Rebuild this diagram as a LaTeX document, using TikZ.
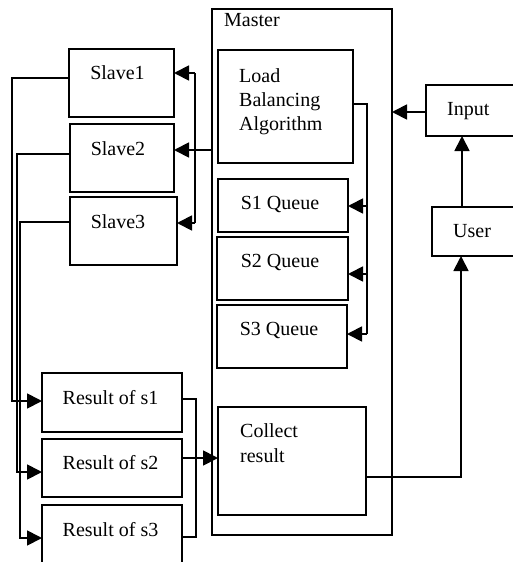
\documentclass[tikz,border=0pt]{standalone}
\usepackage{fontspec}
\setmainfont{Liberation Serif}
\usetikzlibrary{arrows.meta}
\begin{document}
\begin{tikzpicture}[x=1pt,y=-1pt,
  box/.style={draw, line width=1.8pt, inner sep=0pt, outer sep=0pt, anchor=north west},
  lbl/.style={font=\fontsize{20}{24}\selectfont, inner sep=0pt},
  conn/.style={line width=1.8pt},
  arr/.style={conn, -{Triangle[length=15pt,width=15pt]}}]
\useasboundingbox (0,0) rectangle (513,562);
\clip (0,0) rectangle (513,562);
% boxes
\node[box, minimum width=180, minimum height=526] (master) at (212,9) {};
\node[box, minimum width=135, minimum height=113] (lba) at (218,50) {};
\node[box, minimum width=130, minimum height=53] (q1) at (218,179) {};
\node[box, minimum width=131, minimum height=63] (q2) at (217,237) {};
\node[box, minimum width=130, minimum height=63] (q3) at (217,305) {};
\node[box, minimum width=148, minimum height=108] (collect) at (218,407) {};
\node[box, minimum width=105, minimum height=68] (slave1) at (69,49) {};
\node[box, minimum width=104, minimum height=68] (slave2) at (70,124) {};
\node[box, minimum width=107, minimum height=68] (slave3) at (70,197) {};
\node[box, minimum width=140, minimum height=59] (r1) at (42,373) {};
\node[box, minimum width=140, minimum height=58] (r2) at (42,439) {};
\node[box, minimum width=140, minimum height=70] (r3) at (42,505) {};
\node[box, minimum width=110, minimum height=51] (input) at (426,85) {};
\node[box, minimum width=110, minimum height=49] (user) at (432,207) {};
% labels
\node[lbl, anchor=base west] (tmaster) at (224,26) {Master};
\node[lbl, anchor=base west] (tlba1) at (239,82) {Load};
\node[lbl, anchor=base west] (tlba2) at (239,106) {Balancing};
\node[lbl, anchor=base west] (tlba3) at (239,130) {Algorithm};
\node[lbl, anchor=base] (tq1) at (280,209) {S1 Queue};
\node[lbl, anchor=base] (tq2) at (280,267) {S2 Queue};
\node[lbl, anchor=base] (tq3) at (279,335) {S3 Queue};
\node[lbl, anchor=base west] (tcol1) at (240,437) {Collect};
\node[lbl, anchor=base west] (tcol2) at (240,462) {result};
\node[lbl, anchor=base] (ts1) at (117.5,79) {Slave1};
\node[lbl, anchor=base] (ts2) at (118,155) {Slave2};
\node[lbl, anchor=base] (ts3) at (118,228) {Slave3};
\node[lbl, anchor=base] (tr1) at (110.5,404) {Result of s1};
\node[lbl, anchor=base] (tr2) at (110.5,469) {Result of s2};
\node[lbl, anchor=base] (tr3) at (110.5,536) {Result of s3};
\node[lbl, anchor=base west] (tin) at (447,115) {Input};
\node[lbl, anchor=base west] (tus) at (453,237) {User};
% slaves to results
\coordinate (a1) at (12,78);  \coordinate (b1) at (12,401);
\coordinate (a2) at (17,154); \coordinate (b2) at (17,472);
\coordinate (a3) at (20,222); \coordinate (b3) at (20,538);
\draw[arr] (a1 -| slave1.west) -- (a1) -- (b1) -- (b1 -| r1.west);
\draw[arr] (a2 -| slave2.west) -- (a2) -- (b2) -- (b2 -| r2.west);
\draw[arr] (a3 -| slave3.west) -- (a3) -- (b3) -- (b3 -| r3.west);
% master to slaves
\coordinate (m) at (195,150); \coordinate (mt) at (195,73); \coordinate (mb) at (195,223);
\draw[conn] (m -| master.west) -- (m);
\draw[conn] (mt) -- (mb);
\draw[arr] (mt) -- (mt -| slave1.east);
\draw[arr] (m) -- (m -| slave2.east);
\draw[arr] (mb) -- (mb -| slave3.east);
% LBA to queues
\coordinate (l0) at (367,104); \coordinate (l1) at (367,206);
\coordinate (l2) at (367,274); \coordinate (l3) at (367,334);
\draw[conn] (l0 -| lba.east) -- (l0) -- (l3);
\draw[arr] (l1) -- (l1 -| q1.east);
\draw[arr] (l2) -- (l2 -| q2.east);
\draw[arr] (l3) -- (l3 -| q3.east);
% input, user
\coordinate (i0) at (426,112);
\draw[arr] (i0 -| input.west) -- (i0 -| master.east);
\coordinate (u0) at (462,0);
\draw[arr] (u0 |- user.north) -- (u0 |- input.south);
\coordinate (c0) at (461,477);
\draw[arr] (c0 -| collect.east) -- (c0) -- (c0 |- user.south);
% results to collect
\coordinate (r1j) at (196,399); \coordinate (r2j) at (196,458); \coordinate (r3j) at (196,537);
\draw[conn] (r1j -| r1.east) -- (r1j) -- (r3j) -- (r3j -| r3.east);
\draw[conn] (r2j -| r2.east) -- (r2j);
\draw[arr] (r2j) -- (r2j -| collect.west);
\end{tikzpicture}
\end{document}
